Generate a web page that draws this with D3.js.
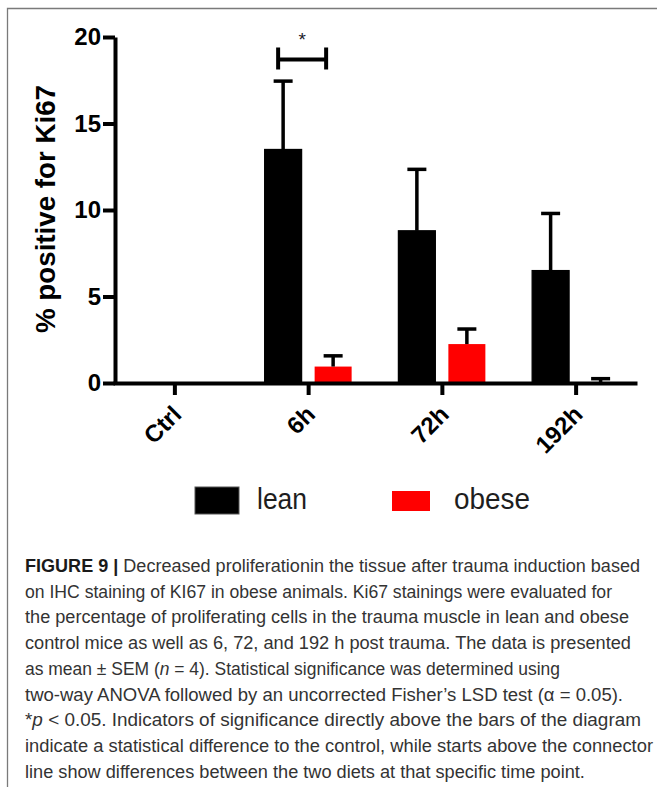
<!DOCTYPE html>
<html>
<head>
<meta charset="utf-8">
<script src="https://cdn.jsdelivr.net/npm/d3@7"></script>
<style>
  html, body { margin: 0; padding: 0; background: #fff; }
  svg { display: block; }
</style>
</head>
<body>
<div id="chart"></div>
<script>
// ---- data ----
const categories = ["Ctrl", "6h", "72h", "192h"];
const groups = ["lean", "obese"];
const leanMean  = [0, 13.5, 8.8, 6.5];
const leanSem   = [0, 3.95, 3.55, 3.3];
const obeseMean = [0, 0.95, 2.25, 0.05];
const obeseSem  = [0, 0.62, 0.87, 0.2];
const yTicks = [0, 5, 10, 15, 20];
const yLabel = "% positive for Ki67";
const significance = [{ category: "6h", level: 18.7, mark: "*" }];
const colors = { lean: "#000000", obese: "#ff0000" };

const captionLines = [
  [["FIGURE 9 | ", "b"], ["Decreased proliferationin the tissue after trauma induction based", ""]],
  [["on IHC staining of KI67 in obese animals. Ki67 stainings were evaluated for", ""]],
  [["the percentage of proliferating cells in the trauma muscle in lean and obese", ""]],
  [["control mice as well as 6, 72, and 192 h post trauma. The data is presented", ""]],
  [["as mean \u00B1 SEM (", ""], ["n", "i"], [" = 4). Statistical significance was determined using", ""]],
  [["two-way ANOVA followed by an uncorrected Fisher\u2019s LSD test (\u03B1 = 0.05).", ""]],
  [["*", ""], ["p", "i"], [" < 0.05. Indicators of significance directly above the bars of the diagram", ""]],
  [["indicate a statistical difference to the control, while starts above the connector", ""]],
  [["line show differences between the two diets at that specific time point.", ""]]
];
// right edge of each justified caption line; the last line runs at natural width
const captionRight = [640, 612, 629, 631, 560, 623, 641, 653, null];

// ---- layout ----
const W = 657, H = 787;
const plot = { left: 115, right: 635, top: 37, bottom: 383 };

const svg = d3.select("#chart").append("svg")
  .attr("width", W).attr("height", H)
  .style("font-family", "'Liberation Sans', Arial, sans-serif");

// figure frame
svg.append("path")
  .attr("d", `M7.5,${H} V8.5 H${W}`)
  .attr("fill", "none").attr("stroke", "#7a7a7a").attr("stroke-width", 1.3);

const x = d3.scalePoint().domain(categories).range([plot.left, plot.right]).padding(0.444);
const inner = d3.scaleBand().domain(groups).range([-50, 50]).paddingInner(0.26).paddingOuter(0.13);
const y = d3.scaleLinear().domain([0, 20]).range([plot.bottom, plot.top]);

const rows = [];
categories.forEach((c, i) => {
  rows.push({ cat: c, group: "lean", mean: leanMean[i], sem: leanSem[i] });
  rows.push({ cat: c, group: "obese", mean: obeseMean[i], sem: obeseSem[i] });
});

// bars
svg.append("g").selectAll("rect").data(rows.filter(d => d.mean > 0)).join("rect")
  .attr("x", d => x(d.cat) + inner(d.group))
  .attr("y", d => y(d.mean))
  .attr("width", inner.bandwidth())
  .attr("height", d => y(0) - y(d.mean))
  .attr("fill", d => colors[d.group])
  .attr("stroke", d => d.group === "lean" ? "#000" : "none")
  .attr("stroke-width", 1.2);

// error bars (upper only)
const capW = 19;
const eb = svg.append("g").attr("stroke", "#000").attr("stroke-width", 3.5).attr("fill", "none");
rows.filter(d => d.sem > 0).forEach(d => {
  const cx = x(d.cat) + inner(d.group) + inner.bandwidth() / 2;
  eb.append("line").attr("x1", cx).attr("x2", cx)
    .attr("y1", y(d.mean)).attr("y2", y(d.mean + d.sem));
  eb.append("line").attr("x1", cx - capW / 2).attr("x2", cx + capW / 2)
    .attr("y1", y(d.mean + d.sem)).attr("y2", y(d.mean + d.sem));
});

// axes
const yAxis = svg.append("g")
  .attr("transform", `translate(${plot.left},0)`)
  .call(d3.axisLeft(y).tickValues(yTicks).tickSize(12).tickSizeOuter(0).tickPadding(2));
yAxis.selectAll("path, line").attr("stroke", "#000").attr("stroke-width", 4);
yAxis.selectAll("text")
  .attr("font-size", 24).attr("font-weight", "bold").attr("fill", "#000")
  .attr("font-family", "'Liberation Sans', Arial, sans-serif");

const xAxis = svg.append("g")
  .attr("transform", `translate(0,${plot.bottom})`)
  .call(d3.axisBottom(x).tickSize(12).tickSizeOuter(0));
xAxis.selectAll("path, line").attr("stroke", "#000").attr("stroke-width", 4);
xAxis.select(".domain").attr("stroke-linecap", "square");
xAxis.selectAll("text")
  .attr("font-size", 24).attr("font-weight", "bold").attr("fill", "#000")
  .attr("font-family", "'Liberation Sans', Arial, sans-serif")
  .attr("text-anchor", "end")
  .attr("y", 0).attr("dy", 0)
  .attr("transform", "translate(8,33) rotate(-45)");

// y axis title
svg.append("text")
  .attr("transform", `translate(55,209) rotate(-90)`)
  .attr("text-anchor", "middle")
  .attr("font-size", 28).attr("font-weight", "bold").attr("fill", "#000")
  .attr("textLength", 248).attr("lengthAdjust", "spacingAndGlyphs")
  .text(yLabel);

// significance bracket between diets
significance.forEach(s => {
  const x1 = x(s.category) + inner("lean") + inner.bandwidth() / 2 - 5;
  const x2 = x(s.category) + inner("obese") + inner.bandwidth() / 2 - 7;
  const yy = y(s.level);
  const g = svg.append("g").attr("stroke", "#000").attr("stroke-width", 4);
  g.append("line").attr("x1", x1).attr("x2", x2).attr("y1", yy).attr("y2", yy);
  g.append("line").attr("x1", x1).attr("x2", x1).attr("y1", yy - 12).attr("y2", yy + 10);
  g.append("line").attr("x1", x2).attr("x2", x2).attr("y1", yy - 12).attr("y2", yy + 10);
  svg.append("text")
    .attr("x", (x1 + x2) / 2).attr("y", yy - 13)
    .attr("text-anchor", "middle").attr("font-size", 19).attr("fill", "#1a1a2a")
    .text(s.mark);
});

// legend
const legend = [
  { key: "lean", rx: 195, ry: 487, rw: 44, rh: 27, tx: 257, len: 50 },
  { key: "obese", rx: 392, ry: 491, rw: 38, rh: 20, tx: 454, len: 76 }
];
legend.forEach(l => {
  svg.append("rect").attr("x", l.rx).attr("y", l.ry).attr("width", l.rw).attr("height", l.rh)
    .attr("fill", colors[l.key]).attr("stroke", l.key === "lean" ? "#555" : "none").attr("stroke-width", 1);
  svg.append("text").attr("x", l.tx).attr("y", 509)
    .attr("font-size", 29).attr("fill", "#1e1e1e")
    .attr("textLength", l.len).attr("lengthAdjust", "spacingAndGlyphs")
    .text(l.key);
});

// caption
const capLeft = 25, capTop = 572, capStep = 25.7;
const capNodes = captionLines.map((segs, i) => {
  const t = svg.append("text")
    .attr("x", capLeft).attr("y", capTop + i * capStep)
    .attr("font-size", 17.5).attr("fill", "#333");
  segs.forEach(([txt, st]) => {
    const ts = t.append("tspan").text(txt);
    if (st === "b") ts.attr("font-weight", "bold").attr("fill", "#1a1a1a");
    if (st === "i") ts.attr("font-style", "italic");
  });
  return t;
});
// squeeze factor shared by the justified lines, reused for the closing line
const natural = capNodes.map(t => t.node().getComputedTextLength());
const ratios = captionRight.map((r, i) => r == null ? null : (r - capLeft) / natural[i]).filter(v => v != null);
const meanRatio = d3.median(ratios);
capNodes.forEach((t, i) => {
  const len = captionRight[i] == null ? natural[i] * meanRatio : captionRight[i] - capLeft;
  t.attr("textLength", len).attr("lengthAdjust", "spacingAndGlyphs");
});
</script>
</body>
</html>
